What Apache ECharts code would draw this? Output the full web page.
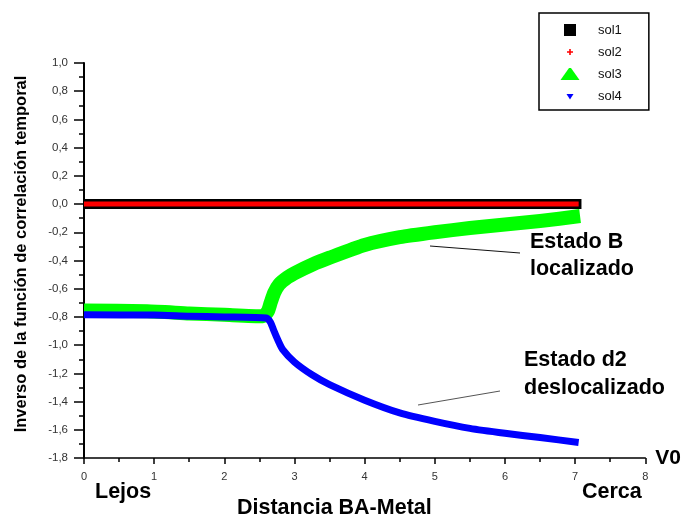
<!DOCTYPE html>
<html>
<head>
<meta charset="utf-8">
<script src="https://cdn.jsdelivr.net/npm/echarts@6/dist/echarts.min.js"></script>
<style>
  html, body { margin: 0; padding: 0; background: #fff; }
  #chart { width: 684px; height: 516px; }
</style>
</head>
<body>
<div id="chart"></div>
<script>
// Solution branches: inverse of the temporal correlation function vs. V0
const seriesNames = ['sol1', 'sol2', 'sol3', 'sol4'];

const sol1X = [0, 7.09];
const sol1Y = [0, 0];

const sol2X = [0, 7.05];
const sol2Y = [0, 0];

// Estado B (localizado)
const sol3X = [0, 0.9, 1.5, 2.0, 2.55, 2.62, 2.66, 2.71, 2.78, 2.9, 3.0, 3.25, 3.5, 4.0, 4.5, 5.0, 5.5, 6.0, 6.5, 7.07];
const sol3Y = [-0.755, -0.76, -0.775, -0.785, -0.795, -0.76, -0.70, -0.63, -0.57, -0.52, -0.49, -0.43, -0.38, -0.29, -0.235, -0.20, -0.17, -0.145, -0.12, -0.085];

// Estado d2 (deslocalizado)
const sol4X = [0, 1.0, 1.5, 2.0, 2.6, 2.66, 2.70, 2.76, 2.83, 3.0, 3.25, 3.5, 4.0, 4.5, 5.0, 5.5, 6.0, 6.5, 7.05];
const sol4Y = [-0.785, -0.787, -0.795, -0.80, -0.808, -0.84, -0.89, -0.96, -1.03, -1.12, -1.21, -1.28, -1.39, -1.48, -1.54, -1.59, -1.625, -1.655, -1.69];

const xTickMin = 0, xTickMax = 8, xTickStep = 1;
const yTickMin = -1.8, yTickMax = 1.0, yTickStep = 0.2;

const zip = (xs, ys) => xs.map((x, i) => [x, ys[i]]);

const legendIcons = {
  sol1: 'path://M0,0 M20,14 M4,1 L16,1 L16,13 L4,13 Z',
  sol2: 'path://M0,0 M20,14 M9.2,4 L10.8,4 L10.8,6.2 L13,6.2 L13,7.8 L10.8,7.8 L10.8,10 L9.2,10 L9.2,7.8 L7,7.8 L7,6.2 L9.2,6.2 Z',
  sol3: 'path://M0,0 M20,14 M9,1 L11,1 L19.5,13 L0.5,13 Z',
  sol4: 'path://M0,0 M20,14 M6.5,5 L13.5,5 L10,10.5 Z'
};
const colors = { sol1: '#000000', sol2: '#ff0000', sol3: '#00ff00', sol4: '#0000ff' };

const boldFont = '"Liberation Sans", Arial, sans-serif';
const fmt = v => (Math.round(v * 10) / 10).toFixed(1).replace('.', ',');
const bigText = (text, x, y) => ({
  type: 'text', x, y,
  style: { text, fontFamily: boldFont, fontWeight: 'bold', fontSize: 21.5, fill: '#000', verticalAlign: 'middle' }
});

const chart = echarts.init(document.getElementById('chart'), null, { renderer: 'canvas' });

chart.setOption({
  animation: false,
  backgroundColor: '#ffffff',
  grid: { left: 84, right: 38, top: 63, bottom: 58, containLabel: false },
  legend: {
    orient: 'vertical',
    left: 539,
    top: 13,
    padding: [10, 27, 7, 21],
    itemWidth: 20,
    itemHeight: 14,
    itemGap: 8,
    borderColor: '#000',
    borderWidth: 1.5,
    borderRadius: 0,
    selectedMode: false,
    textStyle: { fontFamily: 'Arial, "Liberation Sans", sans-serif', fontSize: 13, color: '#111', padding: [0, 0, 0, 13] },
    data: seriesNames.map(n => ({ name: n, icon: legendIcons[n], itemStyle: { color: colors[n], borderWidth: 0 } }))
  },
  xAxis: {
    type: 'value',
    min: xTickMin, max: xTickMax, interval: xTickStep,
    name: 'V0',
    nameLocation: 'end',
    nameGap: 10,
    nameTextStyle: { fontFamily: boldFont, fontWeight: 'bold', fontSize: 21, color: '#000', verticalAlign: 'middle' },
    axisLine: { onZero: false, lineStyle: { color: '#000', width: 1.5 } },
    axisTick: { show: true, inside: false, length: 6, lineStyle: { color: '#000', width: 1.5 } },
    minorTick: { show: true, splitNumber: 2, length: 4, lineStyle: { color: '#000', width: 1.5 } },
    axisLabel: { margin: 13, fontFamily: 'Arial, sans-serif', fontSize: 11, color: '#333', formatter: v => String(v) },
    splitLine: { show: false }
  },
  yAxis: {
    type: 'value',
    min: yTickMin, max: yTickMax, interval: yTickStep,
    axisLine: { onZero: false, lineStyle: { color: '#000', width: 2 } },
    axisTick: { show: true, inside: false, length: 10, lineStyle: { color: '#000', width: 1.5 } },
    minorTick: { show: true, splitNumber: 2, length: 5, lineStyle: { color: '#000', width: 1.5 } },
    axisLabel: { margin: 16, fontFamily: 'Arial, sans-serif', fontSize: 11.5, color: '#333', formatter: fmt },
    splitLine: { show: false }
  },
  graphic: [
    { type: 'text', x: 21, y: 254, rotation: Math.PI / 2,
      style: { text: 'Inverso de la función de correlación temporal', fontFamily: boldFont, fontWeight: 'bold', fontSize: 16.5, fill: '#000', align: 'center', verticalAlign: 'middle' } },
    bigText('Lejos', 95, 492),
    bigText('Cerca', 582, 492),
    bigText('Distancia BA-Metal', 237, 508),
    bigText('Estado B', 530, 242),
    bigText('localizado', 530, 269),
    bigText('Estado d2', 524, 360),
    bigText('deslocalizado', 524, 388),
    { type: 'line', shape: { x1: 430, y1: 246, x2: 520, y2: 253 }, style: { stroke: '#111', lineWidth: 1 } },
    { type: 'line', shape: { x1: 418, y1: 405, x2: 500, y2: 391 }, style: { stroke: '#555', lineWidth: 1 } }
  ],
  series: [
    { name: 'sol3', type: 'line', data: zip(sol3X, sol3Y), showSymbol: false, smooth: 0.2, z: 2,
      itemStyle: { color: colors.sol3 }, lineStyle: { color: colors.sol3, width: 14, cap: 'butt', join: 'round' } },
    { name: 'sol4', type: 'line', data: zip(sol4X, sol4Y), showSymbol: false, smooth: 0.2, z: 3,
      itemStyle: { color: colors.sol4 }, lineStyle: { color: colors.sol4, width: 7, cap: 'butt', join: 'round' } },
    { name: 'sol1', type: 'line', data: zip(sol1X, sol1Y), showSymbol: false, z: 4,
      itemStyle: { color: colors.sol1 }, lineStyle: { color: colors.sol1, width: 10, cap: 'butt' } },
    { name: 'sol2', type: 'line', data: zip(sol2X, sol2Y), showSymbol: false, z: 5,
      itemStyle: { color: colors.sol2 }, lineStyle: { color: colors.sol2, width: 5, cap: 'butt' } }
  ]
});
</script>
</body>
</html>
